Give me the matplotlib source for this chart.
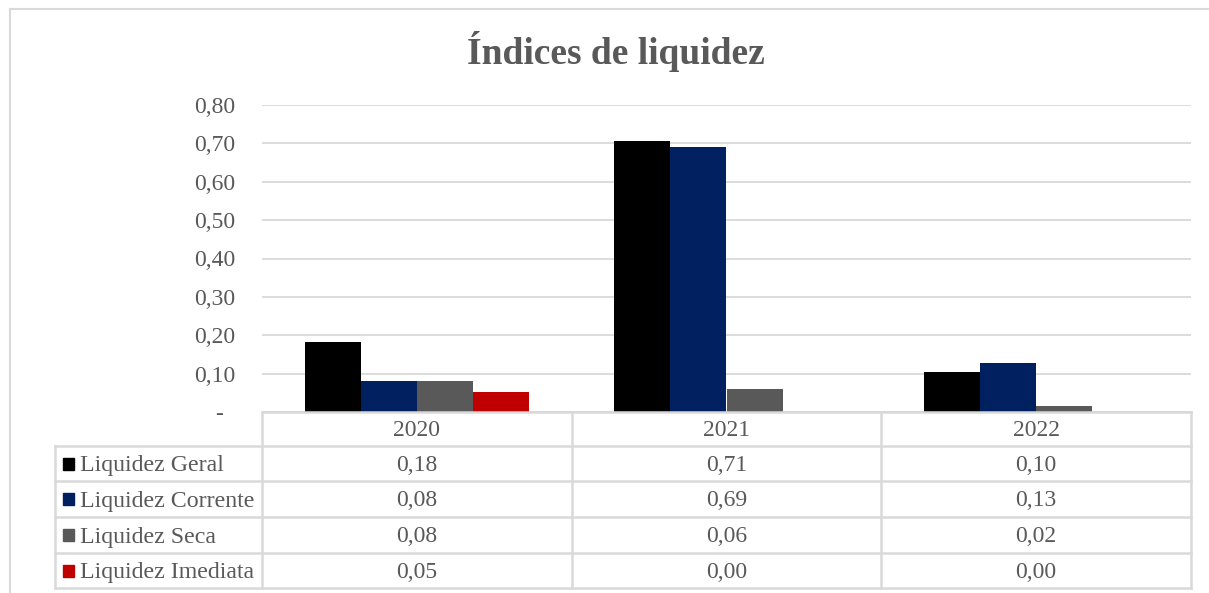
import matplotlib
matplotlib.use("Agg")
import matplotlib.pyplot as plt
from matplotlib.lines import Line2D
from matplotlib.patches import Rectangle
from matplotlib.transforms import blended_transform_factory
import numpy as np

plt.rcParams["font.family"] = ["Liberation Serif", "DejaVu Serif"]

# values
years = ["2020", "2021", "2022"]
series = ["Liquidez Geral", "Liquidez Corrente", "Liquidez Seca", "Liquidez Imediata"]
geral = [0.182, 0.706, 0.104]
corrente = [0.081, 0.690, 0.128]
seca = [0.081, 0.060, 0.016]
imediata = [0.052, 0.000, 0.000]
yticks = [0.0, 0.1, 0.2, 0.3, 0.4, 0.5, 0.6, 0.7, 0.8]

colors = ["#000000", "#002060", "#595959", "#C00000"]
txt = "#595959"
grid = "#D9D9D9"
W, H = 1209, 593

fig = plt.figure(figsize=(W / 100, H / 100), dpi=100)
# plot area in pixels: x 262..1191, y 105..412
ax = fig.add_axes([262 / W, 1 - 412 / H, (1191 - 262) / W, (412 - 105) / H])

x = np.arange(len(years))
w = 0.181
for i, (vals, c) in enumerate(zip([geral, corrente, seca, imediata], colors)):
    ax.bar(x + (i - 1.5) * w, vals, w, color=c, linewidth=0, zorder=3)

ax.set_xlim(-0.5, 2.5)
ax.set_ylim(0, 0.8)
ax.set_yticks(yticks)
ax.set_yticklabels(["-  "] + [f"{v:.2f}".replace(".", ",") for v in yticks[1:]])
ax.tick_params(axis="y", length=0, pad=19, labelsize=17, labelcolor=txt)
ax.set_xticks([])
ax.grid(axis="y", color=grid, linewidth=1.3, zorder=0)
for s in ax.spines.values():
    s.set_visible(False)

# data table under the plot
fy = lambda py: 1 - py / H
fx = lambda px: px / W
tr = blended_transform_factory(ax.transData, fig.transFigure)
rows = [412, 446, 481, 517, 553, 588]
lw = 1.8
fig.add_artist(Line2D([fx(262), fx(1191)], [fy(rows[0])] * 2, color=grid, lw=lw))
for r in rows[1:]:
    fig.add_artist(Line2D([fx(55), fx(1191)], [fy(r)] * 2, color=grid, lw=lw))
fig.add_artist(Line2D([fx(55), fx(55)], [fy(rows[1]), fy(rows[-1])], color=grid, lw=lw))
for xb in [-0.5, 0.5, 1.5, 2.5]:
    fig.add_artist(Line2D([xb, xb], [fy(rows[0]), fy(rows[-1])], color=grid, lw=lw, transform=tr))

for j, yr in enumerate(years):
    fig.text(j, fy((rows[0] + rows[1]) / 2 + 2), yr, transform=tr, ha="center", va="center",
             fontsize=17, color=txt)
for i, (name, vals, c) in enumerate(zip(series, [geral, corrente, seca, imediata], colors)):
    yc = (rows[i + 1] + rows[i + 2]) / 2
    fig.add_artist(Rectangle((fx(63), fy(yc + 6)), 11 / W, 12 / H, color=c, transform=fig.transFigure))
    fig.text(fx(80), fy(yc + 2), name, ha="left", va="center", fontsize=17.2, color=txt)
    for j, v in enumerate(vals):
        fig.text(j, fy(yc + 2), f"{v:.2f}".replace(".", ","), transform=tr, ha="center", va="center",
                 fontsize=17, color=txt)

fig.text(616 / W, fy(64), "Índices de liquidez", ha="center", va="baseline",
         fontsize=27, fontweight="bold", color=txt)

# chart frame (top and left edges visible)
fig.add_artist(Line2D([fx(10), 1], [fy(9)] * 2, color=grid, lw=1.5))
fig.add_artist(Line2D([fx(10), fx(10)], [fy(9), 0], color=grid, lw=1.5))

fig.savefig("out.png", dpi=100)
